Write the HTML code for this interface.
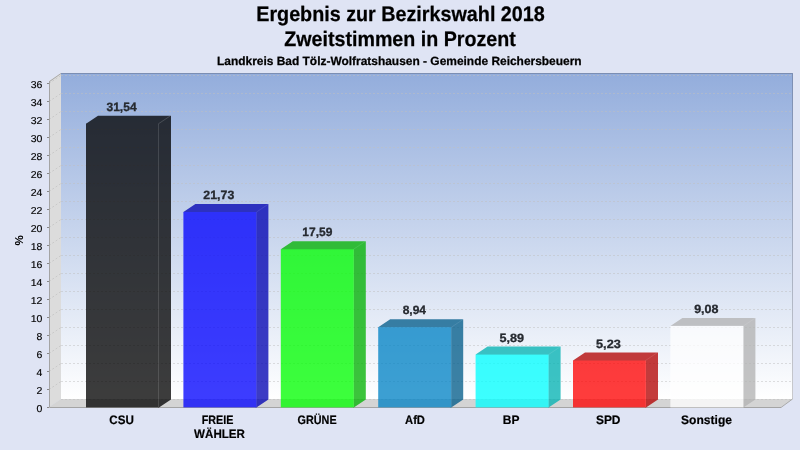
<!DOCTYPE html>
<html lang="de"><head><meta charset="utf-8"><title>Ergebnis zur Bezirkswahl 2018</title>
<style>html,body{margin:0;padding:0;background:#dfe4f4;overflow:hidden}svg{display:block}text{font-family:"Liberation Sans",Arial,Helvetica,sans-serif;text-rendering:geometricPrecision}</style>
</head><body>
<svg width="800" height="450" viewBox="0 0 800 450">
<defs><linearGradient id="bg" x1="0" y1="0" x2="0" y2="1"><stop offset="0" stop-color="#93addc"/><stop offset="1" stop-color="#ffffff"/></linearGradient></defs>
<rect width="800" height="450" fill="#dfe4f4"/>
<g font-weight="bold" text-anchor="middle" fill="#000" stroke="#000" stroke-width="0.25">
<text transform="translate(400.5,20.7) scale(0.940,1)" font-size="21">Ergebnis zur Bezirkswahl 2018</text>
<text transform="translate(400,46.1) scale(0.936,1)" font-size="21">Zweitstimmen in Prozent</text>
<text x="399.3" y="65" font-size="11.95">Landkreis Bad Tölz-Wolfratshausen - Gemeinde Reichersbeuern</text>
</g>
<rect x="61" y="73" width="732" height="326" fill="url(#bg)"/>
<polygon points="49,81 61,73 61,399 49,407" fill="#dcdcdc"/>
<polygon points="49,407 61,399 793,399 781,407" fill="#d4d4d4"/>
<g stroke="#c0c0c0" stroke-width="1" stroke-dasharray="2,2" fill="none" opacity="0.5">
<line x1="61" y1="399.5" x2="793" y2="399.5"/>
<line x1="61" y1="381.5" x2="793" y2="381.5"/>
<line x1="61" y1="363.5" x2="793" y2="363.5"/>
<line x1="61" y1="345.5" x2="793" y2="345.5"/>
<line x1="61" y1="327.5" x2="793" y2="327.5"/>
<line x1="61" y1="309.5" x2="793" y2="309.5"/>
<line x1="61" y1="291.5" x2="793" y2="291.5"/>
<line x1="61" y1="273.5" x2="793" y2="273.5"/>
<line x1="61" y1="255.5" x2="793" y2="255.5"/>
<line x1="61" y1="237.5" x2="793" y2="237.5"/>
<line x1="61" y1="219.5" x2="793" y2="219.5"/>
<line x1="61" y1="201.5" x2="793" y2="201.5"/>
<line x1="61" y1="183.5" x2="793" y2="183.5"/>
<line x1="61" y1="165.5" x2="793" y2="165.5"/>
<line x1="61" y1="147.5" x2="793" y2="147.5"/>
<line x1="61" y1="129.5" x2="793" y2="129.5"/>
<line x1="61" y1="111.5" x2="793" y2="111.5"/>
<line x1="61" y1="93.5" x2="793" y2="93.5"/>
<line x1="61" y1="75.5" x2="793" y2="75.5"/>
</g>
<g stroke="#bcbcbc" stroke-width="1" stroke-dasharray="2,2" fill="none" opacity="0.6">
<line x1="49" y1="389.5" x2="61" y2="381.5"/>
<line x1="49" y1="371.5" x2="61" y2="363.5"/>
<line x1="49" y1="353.5" x2="61" y2="345.5"/>
<line x1="49" y1="335.5" x2="61" y2="327.5"/>
<line x1="49" y1="317.5" x2="61" y2="309.5"/>
<line x1="49" y1="299.5" x2="61" y2="291.5"/>
<line x1="49" y1="281.5" x2="61" y2="273.5"/>
<line x1="49" y1="263.5" x2="61" y2="255.5"/>
<line x1="49" y1="245.5" x2="61" y2="237.5"/>
<line x1="49" y1="227.5" x2="61" y2="219.5"/>
<line x1="49" y1="209.5" x2="61" y2="201.5"/>
<line x1="49" y1="191.5" x2="61" y2="183.5"/>
<line x1="49" y1="173.5" x2="61" y2="165.5"/>
<line x1="49" y1="155.5" x2="61" y2="147.5"/>
<line x1="49" y1="137.5" x2="61" y2="129.5"/>
<line x1="49" y1="119.5" x2="61" y2="111.5"/>
<line x1="49" y1="101.5" x2="61" y2="93.5"/>
<line x1="49" y1="83.5" x2="61" y2="75.5"/>
</g>
<path d="M61,73.5 H792.5 V399" stroke="#3c3c46" stroke-opacity="0.27" stroke-width="1" fill="none"/>
<path d="M49.5,81 V407.5 H781" stroke="#a4a4a4" stroke-width="1" fill="none"/>
<path d="M49.5,81.5 L61,73.5" stroke="#aaa" stroke-width="1" fill="none"/>
<path d="M781,407.5 L792.5,399" stroke="#aaa" stroke-width="1" fill="none"/>
<g stroke="#888" stroke-width="1">
<line x1="47" y1="407.5" x2="49" y2="407.5"/>
<line x1="47" y1="389.5" x2="49" y2="389.5"/>
<line x1="47" y1="371.5" x2="49" y2="371.5"/>
<line x1="47" y1="353.5" x2="49" y2="353.5"/>
<line x1="47" y1="335.5" x2="49" y2="335.5"/>
<line x1="47" y1="317.5" x2="49" y2="317.5"/>
<line x1="47" y1="299.5" x2="49" y2="299.5"/>
<line x1="47" y1="281.5" x2="49" y2="281.5"/>
<line x1="47" y1="263.5" x2="49" y2="263.5"/>
<line x1="47" y1="245.5" x2="49" y2="245.5"/>
<line x1="47" y1="227.5" x2="49" y2="227.5"/>
<line x1="47" y1="209.5" x2="49" y2="209.5"/>
<line x1="47" y1="191.5" x2="49" y2="191.5"/>
<line x1="47" y1="173.5" x2="49" y2="173.5"/>
<line x1="47" y1="155.5" x2="49" y2="155.5"/>
<line x1="47" y1="137.5" x2="49" y2="137.5"/>
<line x1="47" y1="119.5" x2="49" y2="119.5"/>
<line x1="47" y1="101.5" x2="49" y2="101.5"/>
<line x1="47" y1="83.5" x2="49" y2="83.5"/>
</g>
<g font-size="10" text-anchor="end" fill="#000" stroke="#000" stroke-width="0.15">
<text transform="translate(42.4,411.85) scale(1.05,1)">0</text>
<text transform="translate(42.4,393.85) scale(1.05,1)">2</text>
<text transform="translate(42.4,375.85) scale(1.05,1)">4</text>
<text transform="translate(42.4,357.85) scale(1.05,1)">6</text>
<text transform="translate(42.4,339.85) scale(1.05,1)">8</text>
<text transform="translate(42.4,321.85) scale(1.05,1)">10</text>
<text transform="translate(42.4,303.85) scale(1.05,1)">12</text>
<text transform="translate(42.4,285.85) scale(1.05,1)">14</text>
<text transform="translate(42.4,267.85) scale(1.05,1)">16</text>
<text transform="translate(42.4,249.85) scale(1.05,1)">18</text>
<text transform="translate(42.4,231.85) scale(1.05,1)">20</text>
<text transform="translate(42.4,213.85) scale(1.05,1)">22</text>
<text transform="translate(42.4,195.85) scale(1.05,1)">24</text>
<text transform="translate(42.4,177.85) scale(1.05,1)">26</text>
<text transform="translate(42.4,159.85) scale(1.05,1)">28</text>
<text transform="translate(42.4,141.85) scale(1.05,1)">30</text>
<text transform="translate(42.4,123.85) scale(1.05,1)">32</text>
<text transform="translate(42.4,105.85) scale(1.05,1)">34</text>
<text transform="translate(42.4,87.85) scale(1.05,1)">36</text>
</g>
<text transform="translate(23,240.5) rotate(-90)" font-size="11.5" font-weight="bold" text-anchor="middle" fill="#000">%</text>
<g opacity="0.76">
<polygon points="86,123.74 98,115.74 171,115.74 171,399.4 159,407.4 158.3,407.4 158.3,124.44 86.9,124.44" fill="rgb(0,0,0)"/>
<rect x="86" y="123.74" width="73" height="283.66" fill="rgb(0,0,0)"/>
</g>
<path d="M158.5,123.74 V407.4" stroke="#ffffff" stroke-opacity="0.13" stroke-width="1" fill="none"/>
<path d="M158.5,123.74 L170.5,115.74" stroke="#ffffff" stroke-opacity="0.16" stroke-width="1" fill="none"/>
<text transform="translate(121.55,110.74) scale(1.0047,1)" font-size="12" font-weight="bold" text-anchor="middle" fill="#262a30" stroke="#262a30" stroke-width="0.3">31,54</text>
<text transform="translate(121.6,423.7) scale(0.946915,1)" font-size="12.3" font-weight="bold" text-anchor="middle" fill="#000" stroke="#000" stroke-width="0.2">CSU</text>
<g opacity="0.76">
<polygon points="183.4,212.03 195.4,204.03 268.4,204.03 268.4,399.4 256.4,407.4 255.7,407.4 255.7,212.73 184.3,212.73" fill="rgb(0,0,178)"/>
<rect x="183.4" y="212.03" width="73" height="195.37" fill="rgb(0,0,255)"/>
</g>
<path d="M256.5,212.03 V407.4" stroke="#ffffff" stroke-opacity="0.07" stroke-width="1" fill="none"/>
<path d="M256.5,212.03 L268.5,204.03" stroke="#ffffff" stroke-opacity="0.1" stroke-width="1" fill="none"/>
<text transform="translate(218.8,199.03) scale(1.03,1)" font-size="12" font-weight="bold" text-anchor="middle" fill="#262a30" stroke="#262a30" stroke-width="0.3">21,73</text>
<text transform="translate(217.6,423.7) scale(0.874496,1)" font-size="12.3" font-weight="bold" text-anchor="middle" fill="#000" stroke="#000" stroke-width="0.2">FREIE</text>
<text transform="translate(219.5,437.9) scale(0.94184,1)" font-size="12.3" font-weight="bold" text-anchor="middle" fill="#000" stroke="#000" stroke-width="0.2">WÄHLER</text>
<g opacity="0.76">
<polygon points="280.8,249.29 292.8,241.29 365.8,241.29 365.8,399.4 353.8,407.4 353.1,407.4 353.1,249.99 281.7,249.99" fill="rgb(0,178,0)"/>
<rect x="280.8" y="249.29" width="73" height="158.11" fill="rgb(0,255,0)"/>
</g>
<path d="M353.5,249.29 V407.4" stroke="#ffffff" stroke-opacity="0.07" stroke-width="1" fill="none"/>
<path d="M353.5,249.29 L365.5,241.29" stroke="#ffffff" stroke-opacity="0.1" stroke-width="1" fill="none"/>
<text transform="translate(317.3,236.29) scale(1,1)" font-size="12" font-weight="bold" text-anchor="middle" fill="#262a30" stroke="#262a30" stroke-width="0.3">17,59</text>
<text transform="translate(317.1,423.7) scale(0.878888,1)" font-size="12.3" font-weight="bold" text-anchor="middle" fill="#000" stroke="#000" stroke-width="0.2">GRÜNE</text>
<g opacity="0.76">
<polygon points="378.2,327.14 390.2,319.14 463.2,319.14 463.2,399.4 451.2,407.4 450.5,407.4 450.5,327.84 379.1,327.84" fill="rgb(0,91,137)"/>
<rect x="378.2" y="327.14" width="73" height="80.26" fill="rgb(0,130,197)"/>
</g>
<path d="M451.5,327.14 V407.4" stroke="#ffffff" stroke-opacity="0.07" stroke-width="1" fill="none"/>
<path d="M451.5,327.14 L463.5,319.14" stroke="#ffffff" stroke-opacity="0.1" stroke-width="1" fill="none"/>
<text transform="translate(414.3,314.14) scale(1,1)" font-size="12" font-weight="bold" text-anchor="middle" fill="#262a30" stroke="#262a30" stroke-width="0.3">8,94</text>
<text transform="translate(415,423.7) scale(0.90768,1)" font-size="12.3" font-weight="bold" text-anchor="middle" fill="#000" stroke="#000" stroke-width="0.2">AfD</text>
<g opacity="0.76">
<polygon points="475.6,354.59 487.6,346.59 560.6,346.59 560.6,399.4 548.6,407.4 547.9,407.4 547.9,355.29 476.5,355.29" fill="rgb(0,178,178)"/>
<rect x="475.6" y="354.59" width="73" height="52.81" fill="rgb(0,255,255)"/>
</g>
<path d="M548.5,354.59 V407.4" stroke="#ffffff" stroke-opacity="0.07" stroke-width="1" fill="none"/>
<path d="M548.5,354.59 L560.5,346.59" stroke="#ffffff" stroke-opacity="0.1" stroke-width="1" fill="none"/>
<text transform="translate(511.7,341.59) scale(1.0506,1)" font-size="12" font-weight="bold" text-anchor="middle" fill="#262a30" stroke="#262a30" stroke-width="0.3">5,89</text>
<text transform="translate(511.2,423.7) scale(0.975122,1)" font-size="12.3" font-weight="bold" text-anchor="middle" fill="#000" stroke="#000" stroke-width="0.2">BP</text>
<g opacity="0.76">
<polygon points="573,360.53 585,352.53 658,352.53 658,399.4 646,407.4 645.3,407.4 645.3,361.23 573.9,361.23" fill="rgb(178,0,0)"/>
<rect x="573" y="360.53" width="73" height="46.87" fill="rgb(255,0,0)"/>
</g>
<path d="M645.5,360.53 V407.4" stroke="#ffffff" stroke-opacity="0.07" stroke-width="1" fill="none"/>
<path d="M645.5,360.53 L657.5,352.53" stroke="#ffffff" stroke-opacity="0.1" stroke-width="1" fill="none"/>
<text transform="translate(608.4,347.53) scale(1.0608,1)" font-size="12" font-weight="bold" text-anchor="middle" fill="#262a30" stroke="#262a30" stroke-width="0.3">5,23</text>
<text transform="translate(608.2,423.7) scale(0.970632,1)" font-size="12.3" font-weight="bold" text-anchor="middle" fill="#000" stroke="#000" stroke-width="0.2">SPD</text>
<g opacity="0.76">
<polygon points="670.4,325.88 682.4,317.88 755.4,317.88 755.4,399.4 743.4,407.4 742.7,407.4 742.7,326.58 671.3,326.58" fill="rgb(178,178,178)"/>
<rect x="670.4" y="325.88" width="73" height="81.52" fill="rgb(255,255,255)"/>
</g>
<path d="M743.5,325.88 V407.4" stroke="#ffffff" stroke-opacity="0.07" stroke-width="1" fill="none"/>
<path d="M743.5,325.88 L755.5,317.88" stroke="#ffffff" stroke-opacity="0.1" stroke-width="1" fill="none"/>
<text transform="translate(706.3,312.88) scale(1.0403,1)" font-size="12" font-weight="bold" text-anchor="middle" fill="#262a30" stroke="#262a30" stroke-width="0.3">9,08</text>
<text transform="translate(706.5,423.7) scale(0.980685,1)" font-size="12.3" font-weight="bold" text-anchor="middle" fill="#000" stroke="#000" stroke-width="0.2">Sonstige</text>
</svg>
</body></html>
